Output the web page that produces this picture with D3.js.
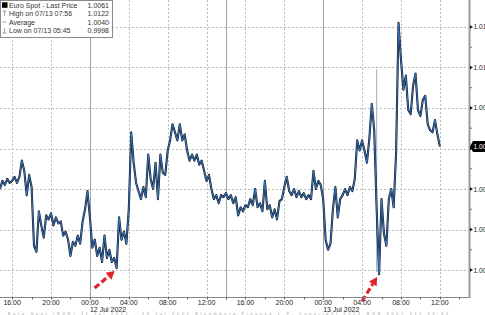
<!DOCTYPE html>
<html><head><meta charset="utf-8">
<script src="https://cdn.jsdelivr.net/npm/d3@7"></script>
<style>
body{margin:0;background:#fff}
svg{display:block;font-family:"Liberation Sans",Arial,sans-serif}
</style>
</head><body><svg id="c" width="485" height="315"></svg>
<script>
// ---- data ----
const startTime = "2022-07-11T14:45";
const stepMinutes = 15;
const prices = [
1.0040,1.0044,1.0042,1.0045,1.0043,1.0044,1.0046,1.0043,1.0046,1.0054,
1.0049,1.0037,1.0047,1.0041,1.0012,1.0009,1.0029,1.0022,1.0016,1.0027,
1.0025,1.0028,1.0022,1.0026,1.0023,1.0024,1.0017,1.0019,1.0015,1.0007,
1.0014,1.0012,1.0017,1.0013,1.0024,1.0030,1.0039,1.0026,1.0011,1.0015,
1.0007,1.0011,1.0004,1.0017,1.0006,1.0010,1.0004,1.0006,1.0001,1.0026,
1.0015,1.0019,1.0013,1.0030,1.0068,1.0053,1.0043,1.0039,1.0035,1.0041,
1.0036,1.0057,1.0045,1.0040,1.0053,1.0035,1.0057,1.0048,1.0047,1.0059,
1.0064,1.0072,1.0068,1.0064,1.0072,1.0064,1.0067,1.0059,1.0054,1.0057,
1.0054,1.0057,1.0052,1.0054,1.0049,1.0044,1.0047,1.0040,1.0035,1.0037,
1.0033,1.0037,1.0036,1.0038,1.0035,1.0037,1.0033,1.0036,1.0027,1.0031,
1.0029,1.0032,1.0031,1.0035,1.0032,1.0040,1.0031,1.0033,1.0029,1.0044,
1.0030,1.0032,1.0026,1.0030,1.0025,1.0034,1.0035,1.0041,1.0046,1.0039,
1.0037,1.0040,1.0036,1.0039,1.0036,1.0038,1.0035,1.0037,1.0035,1.0049,
1.0040,1.0044,1.0042,1.0035,1.0015,1.0010,1.0013,1.0030,1.0041,1.0026,
1.0035,1.0037,1.0040,1.0037,1.0041,1.0039,1.0045,1.0064,1.0059,1.0064,
1.0059,1.0053,1.0065,1.0082,1.0069,1.0030,0.9998,1.0035,1.0018,1.0012,
1.0035,1.0040,1.0031,1.0058,1.0122,1.0104,1.0089,1.0096,1.0079,1.0077,
1.0091,1.0097,1.0079,1.0076,1.0084,1.0086,1.0072,1.0069,1.0068,1.0074,
1.0067,1.0061
];
const spikeTime = "2022-07-13T05:30";
const spikeRange = [0.9999, 1.0099];
const yTickValues = [1.000, 1.002, 1.004, 1.006, 1.008, 1.010, 1.012];
const yDomain = [0.99867, 1.01333];
const xDomain = ["2022-07-11T14:45", "2022-07-13T15:00"];
const separatorTimes = ["2022-07-12T00:00", "2022-07-12T14:00", "2022-07-13T00:00"];
const dayLabels = [["2022-07-12T00:00", "12 Jul 2022"], ["2022-07-13T00:00", "13 Jul 2022"]];
const legendLabels = ["Euro Spot - Last Price", "High on 07/13 07:56", "Average", "Low on 07/13 05:45"];
const legendValues = ["1.0061", "1.0122", "1.0040", "0.9998"];
const lowAnnotations = [["2022-07-12T02:45", 1.0001], ["2022-07-13T05:45", 0.9998]];
const footerText = "Euro Spot (EUR) 11 Jul 2022 - 13 Jul 2022   Bloomberg Finance L.P.   Copyright 2022   BGN 1007 011   12:41";

// ---- setup ----
const parse = d3.timeParse("%Y-%m-%dT%H:%M");
const t0 = parse(startTime);
const series = prices.map((v, i) => ({t: d3.timeMinute.offset(t0, i * stepMinutes), v}));
const trunc2 = v => (Math.floor(v * 100 + 1e-9) / 100).toFixed(2);

const W = 485, plotR = 469, plotB = 297;
const svg = d3.select("#c");
const x = d3.scaleTime().domain(xDomain.map(parse)).range([0, plotR]);
const y = d3.scaleLinear().domain(yDomain).range([plotB, 0]);

// gridlines
const grid = svg.append("g").attr("stroke", "#bdbdbd").attr("stroke-width", 1).attr("stroke-dasharray", "2,2");
grid.selectAll(".h").data(yTickValues).join("line")
  .attr("x1", 0).attr("x2", plotR).attr("y1", d => Math.round(y(d)) + 0.5).attr("y2", d => Math.round(y(d)) + 0.5);
const xTicks = x.ticks(d3.timeHour.every(4));
grid.selectAll(".v").data(xTicks).join("line")
  .attr("y1", 0).attr("y2", plotB).attr("x1", d => Math.round(x(d)) + 0.5).attr("x2", d => Math.round(x(d)) + 0.5);

// separators
svg.append("g").selectAll("line").data(separatorTimes.map(parse)).join("line")
  .attr("x1", d => Math.round(x(d)) + 0.5).attr("x2", d => Math.round(x(d)) + 0.5)
  .attr("y1", 0).attr("y2", plotB + 3).attr("stroke", "#a0a0a0").attr("stroke-width", 1);

// spike
const st = parse(spikeTime);
svg.append("line").attr("x1", x(st)).attr("x2", x(st)).attr("y1", y(spikeRange[0])).attr("y2", y(spikeRange[1]))
  .attr("stroke", "#9ab0cc").attr("stroke-width", 1);

// line
const line = d3.line().x(d => x(d.t)).y(d => y(d.v));
svg.append("path").datum(series).attr("d", line).attr("fill", "none")
  .attr("stroke", "#101827").attr("stroke-width", 2.1).attr("stroke-linejoin", "round");
svg.append("path").datum(series).attr("d", line).attr("fill", "none")
  .attr("stroke", "#3e7fca").attr("stroke-width", 0.9).attr("stroke-linejoin", "round");

// red arrows
const arrowOffsets = [[-20, 17], [-15, 24]];
const ar = svg.append("g");
lowAnnotations.forEach(([ts, v], i) => {
  const tx = x(parse(ts)) - 2, ty = y(v) + 3;
  const [dx, dy] = arrowOffsets[i];
  const len = Math.hypot(dx, dy), ux = -dx / len, uy = -dy / len;
  const hx = tx - ux * 8, hy = ty - uy * 8;
  ar.append("line").attr("x1", tx + dx).attr("y1", ty + dy).attr("x2", hx).attr("y2", hy)
    .attr("stroke", "#e3202b").attr("stroke-width", 3.2).attr("stroke-dasharray", "6,3");
  const px = -uy, py = ux;
  ar.append("path").attr("fill", "#e3202b")
    .attr("d", `M${tx},${ty}L${hx + px * 4.5},${hy + py * 4.5}L${hx - px * 4.5},${hy - py * 4.5}Z`);
});

// bottom axis
const ax = svg.append("g");
ax.append("line").attr("x1", 0).attr("x2", plotR).attr("y1", plotB + 0.5).attr("y2", plotB + 0.5).attr("stroke", "#888");
ax.selectAll(".mt").data(x.ticks(d3.timeHour.every(2))).join("line")
  .attr("x1", d => Math.round(x(d)) + 0.5).attr("x2", d => Math.round(x(d)) + 0.5)
  .attr("y1", plotB).attr("y2", plotB + 2.5).attr("stroke", "#666");
ax.selectAll("text.xl").data(xTicks).join("text")
  .attr("x", d => x(d)).attr("y", plotB + 7.5).attr("text-anchor", "middle")
  .attr("font-size", 7).attr("fill", "#222").text(d3.timeFormat("%H:%M"));
ax.selectAll("text.dl").data(dayLabels).join("text")
  .attr("x", d => x(parse(d[0]))).attr("y", plotB + 14.5)
  .attr("font-size", 7).attr("fill", "#222").text(d => d[1]);
ax.append("text").attr("x", 8).attr("y", 314.6).attr("font-size", 3.6).attr("fill", "#999")
  .attr("textLength", 440).text(footerText);

// right axis
const last = prices[prices.length - 1];
const ly = y(last);
const ra = svg.append("g");
ra.append("line").attr("x1", plotR + 0.5).attr("x2", plotR + 0.5).attr("y1", 0).attr("y2", plotB + 1)
  .attr("stroke", "#9a9a9a").attr("stroke-width", 2);
const minor = d3.range(0, yTickValues.length - 1).map(i => (yTickValues[i] + yTickValues[i + 1]) / 2);
ra.selectAll(".mn").data(minor).join("line")
  .attr("x1", plotR + 1).attr("x2", plotR + 3).attr("y1", d => y(d)).attr("y2", d => y(d)).attr("stroke", "#777");
ra.selectAll(".tri").data(yTickValues).join("path")
  .attr("d", d => `M${plotR + 1},${y(d) - 1.8}L${plotR + 4},${y(d)}L${plotR + 1},${y(d) + 1.8}Z`).attr("fill", "#111");
ra.selectAll(".yl").data(yTickValues.filter(d => Math.abs(y(d) - ly) > 7)).join("text")
  .attr("x", plotR + 4.5).attr("y", d => y(d) + 2.5).attr("font-size", 6.6).attr("fill", "#222")
  .text(trunc2);
// last price tag
ra.append("path").attr("d", `M${plotR + 1},${ly}L${plotR + 4},${ly - 5.5}L${W},${ly - 5.5}L${W},${ly + 5.5}L${plotR + 4},${ly + 5.5}Z`)
  .attr("fill", "#000");
ra.append("text").attr("x", plotR + 4.5).attr("y", ly + 2.5).attr("font-size", 6.6).attr("fill", "#fff")
  .text(trunc2(last));

// legend
const lg = svg.append("g");
lg.append("rect").attr("x", 0.5).attr("y", 0.5).attr("width", 112).attr("height", 37)
  .attr("fill", "#fff").attr("stroke", "#8a8a8a");
const rowY = i => 7.8 + i * 8.4;
lg.selectAll("text.lab").data(legendLabels).join("text")
  .attr("x", 9).attr("y", (d, i) => rowY(i)).attr("font-size", 7).attr("fill", "#333").text(d => d);
lg.selectAll("text.val").data(legendValues).join("text")
  .attr("x", 109).attr("y", (d, i) => rowY(i)).attr("text-anchor", "end").attr("font-size", 7).attr("fill", "#333").text(d => d);
// icons
lg.append("rect").attr("x", 2).attr("y", rowY(0) - 5.5).attr("width", 5.5).attr("height", 5.5).attr("fill", "#000");
const ic = lg.append("g").attr("stroke", "#888").attr("stroke-width", 0.8);
ic.append("line").attr("x1", 2.5).attr("x2", 6.5).attr("y1", rowY(1) - 5).attr("y2", rowY(1) - 5);
ic.append("line").attr("x1", 4.5).attr("x2", 4.5).attr("y1", rowY(1) - 5).attr("y2", rowY(1));
ic.append("line").attr("x1", 2.5).attr("x2", 6.5).attr("y1", rowY(2) - 2.5).attr("y2", rowY(2) - 2.5);
ic.append("line").attr("x1", 2.5).attr("x2", 6.5).attr("y1", rowY(3)).attr("y2", rowY(3));
ic.append("line").attr("x1", 4.5).attr("x2", 4.5).attr("y1", rowY(3) - 5).attr("y2", rowY(3));
</script>
</body></html>
